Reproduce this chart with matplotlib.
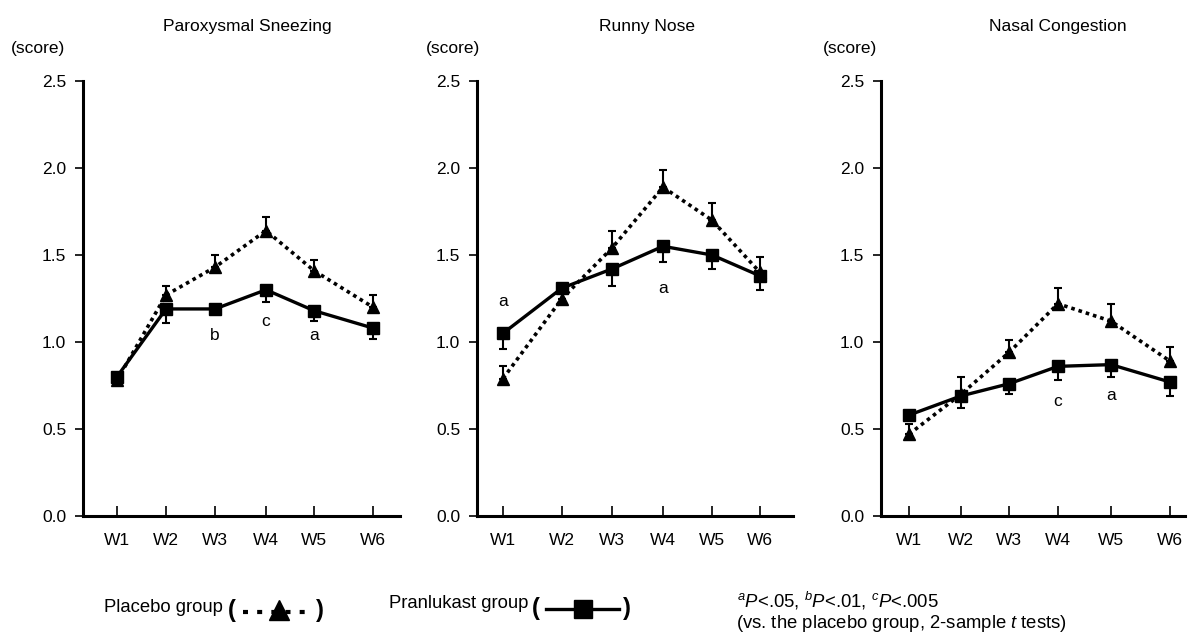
import matplotlib
matplotlib.use('Agg')
import matplotlib.pyplot as plt
from matplotlib.lines import Line2D

plt.rcParams['font.family'] = ['Liberation Sans', 'DejaVu Sans']
plt.rcParams['mathtext.fontset'] = 'custom'
plt.rcParams['mathtext.rm'] = 'Liberation Sans'
plt.rcParams['mathtext.it'] = 'Liberation Sans:italic'

# ---------------- data ----------------
weeks = ['W1', 'W2', 'W3', 'W4', 'W5', 'W6']
titles = ['Paroxysmal Sneezing', 'Runny Nose', 'Nasal Congestion']

placebo_sneezing = [0.78, 1.27, 1.43, 1.64, 1.41, 1.20]
placebo_sneezing_se = [0.03, 0.05, 0.07, 0.08, 0.06, 0.07]
pranlukast_sneezing = [0.80, 1.19, 1.19, 1.30, 1.18, 1.08]
pranlukast_sneezing_se = [0.04, 0.08, 0.03, 0.07, 0.06, 0.06]

placebo_runny = [0.79, 1.25, 1.54, 1.89, 1.70, 1.40]
placebo_runny_se = [0.07, 0.04, 0.10, 0.10, 0.10, 0.09]
pranlukast_runny = [1.05, 1.31, 1.42, 1.55, 1.50, 1.38]
pranlukast_runny_se = [0.09, 0.03, 0.10, 0.09, 0.08, 0.08]

placebo_congestion = [0.47, 0.70, 0.94, 1.22, 1.12, 0.89]
placebo_congestion_se = [0.06, 0.10, 0.07, 0.09, 0.10, 0.08]
pranlukast_congestion = [0.58, 0.69, 0.76, 0.86, 0.87, 0.77]
pranlukast_congestion_se = [0.03, 0.07, 0.06, 0.08, 0.07, 0.08]

sig_letters = [['', '', 'b', 'c', 'a', ''],
               ['a', '', '', 'a', '', ''],
               ['', '', '', 'c', 'a', '']]

yticks = [0.0, 0.5, 1.0, 1.5, 2.0, 2.5]
ytick_labels = ['0.0', '0.5', '1.0', '1.5', '2.0', '2.5']

placebo = [placebo_sneezing, placebo_runny, placebo_congestion]
placebo_se = [placebo_sneezing_se, placebo_runny_se, placebo_congestion_se]
pranlukast = [pranlukast_sneezing, pranlukast_runny, pranlukast_congestion]
pranlukast_se = [pranlukast_sneezing_se, pranlukast_runny_se, pranlukast_congestion_se]

# ---------------- layout (pixels) ----------------
W, H = 1191, 637
panel_px = [(83, 400), (477, 793), (881, 1185)]
xtick_px = [[117, 166, 215, 266, 314, 373],
            [503, 562, 612, 663, 712, 760],
            [909, 961, 1009, 1058, 1111, 1170]]
y_top_px, y_bot_px = 81, 516
sig_y = [[0, 0, 1.04, 1.12, 1.04, 0],
         [1.23, 0, 0, 1.31, 0, 0],
         [0, 0, 0, 0.66, 0.69, 0]]
title_x_px = [247, 647, 1058]
score_x_px = [38, 453, 850]

fig = plt.figure(figsize=(W / 100, H / 100), dpi=100)
fs = 12.5


def fx(px):
    return px / W


def fy(py):
    return 1 - py / H


for i in range(3):
    l, r = panel_px[i]
    ax = fig.add_axes([fx(l), fy(y_bot_px), (r - l) / W, (y_bot_px - y_top_px) / H])
    xs = [p - l for p in xtick_px[i]]
    ax.set_xlim(0, r - l)
    ax.set_ylim(0, 2.5)
    ax.errorbar(xs, placebo[i], yerr=[[0] * 6, placebo_se[i]], fmt='none',
                ecolor='black', elinewidth=1.5, capsize=3, capthick=1.5, zorder=3)
    ax.errorbar(xs, pranlukast[i], yerr=[pranlukast_se[i], [0] * 6], fmt='none',
                ecolor='black', elinewidth=1.5, capsize=3, capthick=1.5, zorder=3)
    ax.plot(xs, placebo[i], color='black', linestyle=(0, (1, 1.1)), linewidth=2.6,
            marker='^', markersize=8, zorder=4)
    ax.plot(xs, pranlukast[i], color='black', linestyle='-', linewidth=2.4,
            marker='s', markersize=8, zorder=5)
    for j, s in enumerate(sig_letters[i]):
        if s:
            ax.text(xs[j], sig_y[i][j], s, ha='center', va='center', fontsize=fs)
    for sp in ['top', 'right']:
        ax.spines[sp].set_visible(False)
    for sp in ['left', 'bottom']:
        ax.spines[sp].set_linewidth(2.2)
    ax.set_yticks(yticks)
    ax.set_yticklabels(ytick_labels, fontsize=fs)
    ax.set_xticks(xs)
    ax.set_xticklabels(weeks, fontsize=fs)
    ax.tick_params(axis='y', direction='out', length=6, width=1.2, pad=6)
    ax.tick_params(axis='x', direction='in', length=7, width=1.2, pad=12)
    ax.patch.set_visible(False)
    fig.text(fx(title_x_px[i]), fy(27), titles[i], ha='center', va='center', fontsize=fs)
    fig.text(fx(score_x_px[i]), fy(49), '(score)', ha='center', va='center', fontsize=fs)

# ---------------- legend ----------------
lfs = 13.3
fig.text(fx(223), fy(607), 'Placebo group', ha='right', va='center', fontsize=lfs)
fig.text(fx(232), fy(611), '(', ha='center', va='center', fontsize=17, fontweight='bold')
fig.add_artist(Line2D([fx(243), fx(313)], [fy(612), fy(612)], transform=fig.transFigure,
                      color='black', linestyle=(0, (1.2, 2.2)), linewidth=3))
fig.add_artist(Line2D([fx(279)], [fy(610)], transform=fig.transFigure, color='black',
                      marker='^', markersize=15, linestyle='none'))
fig.text(fx(320), fy(611), ')', ha='center', va='center', fontsize=17, fontweight='bold')

fig.text(fx(528), fy(603), 'Pranlukast group', ha='right', va='center', fontsize=lfs)
fig.text(fx(536), fy(609), '(', ha='center', va='center', fontsize=17, fontweight='bold')
fig.add_artist(Line2D([fx(546), fx(619)], [fy(609), fy(609)], transform=fig.transFigure,
                      color='black', linestyle='-', linewidth=2.4))
fig.add_artist(Line2D([fx(583)], [fy(609)], transform=fig.transFigure, color='black',
                      marker='s', markersize=13, linestyle='none'))
fig.text(fx(627), fy(609), ')', ha='center', va='center', fontsize=17, fontweight='bold')

nfs = 13.3
fig.text(fx(737), fy(601),
         r'$^{a}\mathit{P}$<.05, $^{b}\mathit{P}$<.01, $^{c}\mathit{P}$<.005',
         ha='left', va='center', fontsize=nfs)
fig.text(fx(736), fy(624),
         r'(vs. the placebo group, 2-sample $\mathit{t}$ tests)',
         ha='left', va='center', fontsize=nfs)

fig.savefig('out.png', dpi=100)
